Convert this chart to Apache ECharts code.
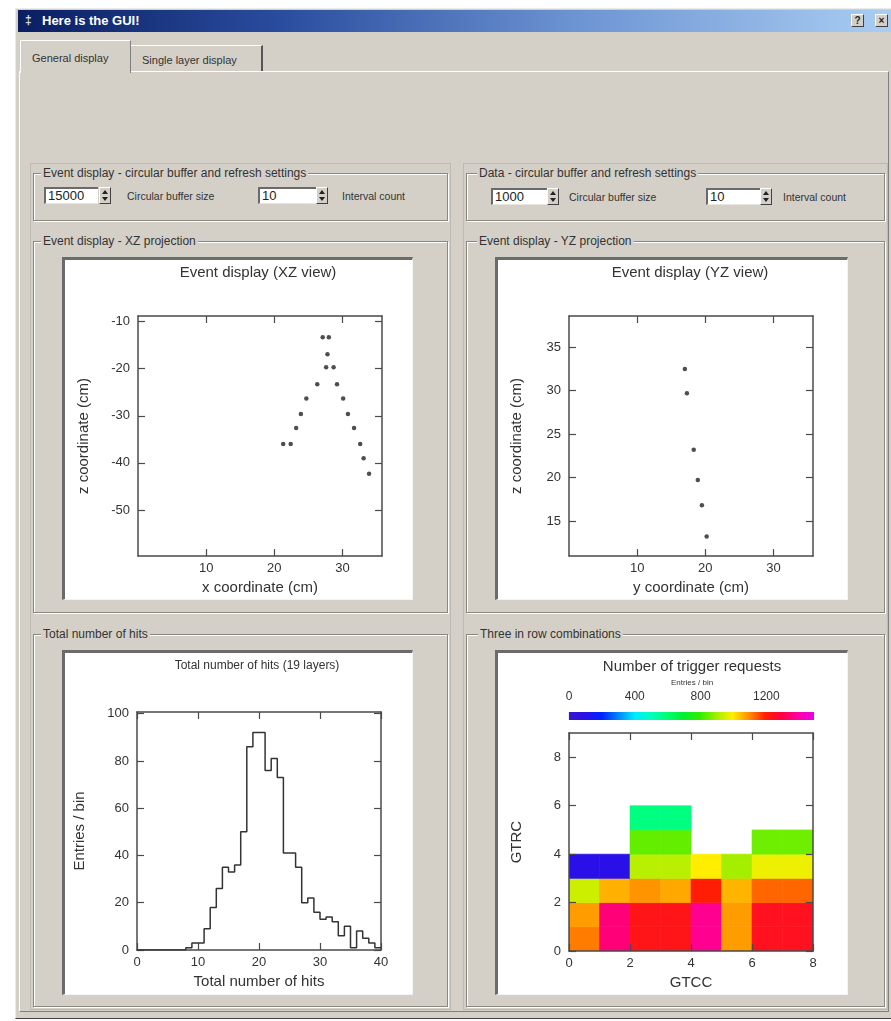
<!DOCTYPE html>
<html><head><meta charset="utf-8">
<script src="https://cdn.jsdelivr.net/npm/echarts@6/dist/echarts.min.js"></script>
<style>
html,body{margin:0;padding:0;background:#fff;width:891px;height:1021px;overflow:hidden;font-family:"Liberation Sans",Arial,sans-serif;color:#333;}
.a{position:absolute;}
#win{left:15px;top:8px;width:876px;height:1011px;background:#d4d0c8;box-sizing:border-box;border-left:1px solid #ecebe6;border-top:1px solid #ecebe6;border-bottom:1px solid #404040;}
#titlebar{left:18px;top:10px;width:873px;height:22px;background:linear-gradient(to right,#0a1e62 0%,#2a4c9e 30%,#6f96d4 65%,#a9cdf2 100%);}
#ticon{left:25px;top:14px;width:9px;height:13px;color:#ddd;font-size:12px;line-height:13px;font-weight:bold;}
#ttext{left:42px;top:13px;color:#fff;font-weight:bold;font-size:13px;line-height:16px;white-space:nowrap;}
.tbtn{top:14px;width:13px;height:13px;background:#d4d0c8;box-sizing:border-box;border:1px solid;border-color:#fff #404040 #404040 #fff;font-size:10px;line-height:11px;text-align:center;font-weight:bold;color:#222;}
.tab{box-sizing:border-box;background:#d4d0c8;font-size:11px;line-height:14px;white-space:nowrap;}
#tab1{left:20px;top:40px;width:111px;height:33px;border-top:1px solid #fff;border-left:1px solid #fff;border-right:1px solid #808080;}
#tab2{left:131px;top:45px;width:132px;height:26px;border-top:1px solid #fff;border-right:2px solid #555;}
#pane{left:19px;top:71px;width:870px;height:941px;box-sizing:border-box;border-top:1px solid #fff;border-left:1px solid #fff;border-right:1px solid #808080;border-bottom:1px solid #808080;}
.col{box-sizing:border-box;border:1px solid #bebab2;}
.grp{box-sizing:border-box;border:1px solid #8a8780;box-shadow:1px 1px 0 #fff, inset 1px 1px 0 #fff;}
.gt{position:absolute;top:-8px;left:7px;background:#d4d0c8;padding:0 2px;font-size:12px;line-height:14px;white-space:nowrap;color:#333;}
.spin{box-sizing:border-box;height:17px;background:#fff;border-top:2px solid #6a6a6a;border-left:2px solid #6a6a6a;border-bottom:1px solid #e8e6e0;font-size:13px;line-height:14px;padding-left:2px;color:#222;}
.arr{box-sizing:border-box;width:12px;height:17px;background:#d4d0c8;border:1px solid;border-color:#fff #404040 #404040 #fff;}
.arr:before{content:"";position:absolute;left:2px;top:2px;border-left:3px solid transparent;border-right:3px solid transparent;border-bottom:4px solid #222;}
.arr:after{content:"";position:absolute;left:2px;top:9px;border-left:3px solid transparent;border-right:3px solid transparent;border-top:4px solid #222;}
.lbl{font-size:10.5px;line-height:13px;white-space:nowrap;color:#333;}
.cv{background:#fff;}
.cvb{box-sizing:border-box;border-top:3px solid #6b6b6b;border-left:3px solid #6b6b6b;border-right:1px solid #f4f4f4;border-bottom:1px solid #f4f4f4;pointer-events:none;}
</style></head>
<body>
<div id="win" class="a"></div>
<div id="titlebar" class="a"></div>
<div id="ticon" class="a">&#8225;</div>
<div id="ttext" class="a">Here is the GUI!</div>
<div class="a tbtn" style="left:851px;">?</div>
<div class="a tbtn" style="left:875px;">&#215;</div>

<div id="pane" class="a"></div>
<div id="tab2" class="a tab"><span class="a" style="left:11px;top:7px;">Single layer display</span></div>
<div id="tab1" class="a tab"><span class="a" style="left:11px;top:10px;">General display</span></div>

<div class="a col" style="left:30px;top:163px;width:421px;height:847px;"></div>
<div class="a col" style="left:463px;top:163px;width:425px;height:847px;"></div>

<div class="a grp" style="left:33px;top:173px;width:415px;height:48px;"><span class="gt">Event display - circular buffer and refresh settings</span></div>
<div class="a grp" style="left:466px;top:173px;width:419px;height:48px;"><span class="gt" style="left:10px;">Data - circular buffer and refresh settings</span></div>
<div class="a grp" style="left:33px;top:241px;width:415px;height:372px;"><span class="gt">Event display - XZ projection</span></div>
<div class="a grp" style="left:466px;top:241px;width:419px;height:372px;"><span class="gt" style="left:10px;">Event display - YZ projection</span></div>
<div class="a grp" style="left:33px;top:634px;width:415px;height:373px;"><span class="gt">Total number of hits</span></div>
<div class="a grp" style="left:466px;top:634px;width:419px;height:373px;"><span class="gt" style="left:11px;">Three in row combinations</span></div>

<div class="a spin" style="left:44px;top:187px;width:54px;">15000</div>
<div class="a arr" style="left:99px;top:187px;"></div>
<div class="a lbl" style="left:127px;top:190px;">Circular buffer size</div>
<div class="a spin" style="left:258px;top:187px;width:59px;">10</div>
<div class="a arr" style="left:316px;top:187px;"></div>
<div class="a lbl" style="left:342px;top:190px;">Interval count</div>

<div class="a spin" style="left:491px;top:188px;width:56px;">1000</div>
<div class="a arr" style="left:547px;top:188px;"></div>
<div class="a lbl" style="left:569px;top:191px;">Circular buffer size</div>
<div class="a spin" style="left:706px;top:188px;width:54px;">10</div>
<div class="a arr" style="left:760px;top:188px;"></div>
<div class="a lbl" style="left:783px;top:191px;">Interval count</div>

<div id="c1" class="a cv" style="left:62px;top:257px;width:351px;height:343px;"></div>
<div class="a cvb" style="left:62px;top:257px;width:351px;height:343px;"></div>
<div id="c2" class="a cv" style="left:495px;top:257px;width:353px;height:343px;"></div>
<div class="a cvb" style="left:495px;top:257px;width:353px;height:343px;"></div>
<div id="c3" class="a cv" style="left:62px;top:650px;width:351px;height:345px;"></div>
<div class="a cvb" style="left:62px;top:650px;width:351px;height:345px;"></div>
<div id="c4" class="a cv" style="left:495px;top:650px;width:353px;height:345px;"></div>
<div class="a cvb" style="left:495px;top:650px;width:353px;height:345px;"></div>

<script>
// ---------------- data ----------------
const xzX = [27.1, 28.0, 27.8, 27.6, 28.7, 26.3, 29.2, 24.7, 30.1, 23.9, 30.8, 23.2, 31.7, 21.3, 22.4, 32.6, 33.1, 33.9];
const xzZ = [-13.3, -13.3, -16.9, -19.7, -19.7, -23.3, -23.3, -26.3, -26.3, -29.6, -29.6, -32.6, -32.6, -36.0, -36.0, -36.0, -39.0, -42.3];
const yzY = [17.0, 17.3, 18.3, 18.9, 19.5, 20.2];
const yzZ = [32.5, 29.7, 23.2, 19.7, 16.8, 13.2];

const histCounts = [0,0,0,0,0,0,0,0,1,3,3,9,18,26,35,33,36,50,86,92,92,76,81,73,41,41,35,20,22,16,13,14,12,6,10,1,8,5,3,1];
const histStart = 0;
const histBinWidth = 1;

const gtccBins = [0,1,2,3,4,5,6,7];
const gtrcBins = [0,1,2,3,4,5,6,7,8];
const trigRow0 = [1110, 1350, 1230, 1230, 1375, 1080, 1240, 1240];
const trigRow1 = [1080, 1350, 1230, 1230, 1375, 1080, 1240, 1240];
const trigRow2 = [940, 1060, 1090, 1067, 1200, 1055, 1130, 1130];
const trigRow3 = [100, 100, 920, 920, 995, 900, 975, 975];
const trigRow4 = [null, null, 840, 840, null, null, 850, 850];
const trigRow5 = [null, null, 575, 575, null, null, null, null];
const trigRows = [trigRow0, trigRow1, trigRow2, trigRow3, trigRow4, trigRow5];

const paletteColors = ['#3c16cc','#2a10e8','#0022ff','#0082ff','#00e8ff','#00ffc0','#00ff70','#00f030','#30ee00','#a0ee00','#fff000','#ff9000','#ff2000','#ff0040','#ff00a0','#e800e8'];
const paletteMax = 1490;

const xzXTicks = [10, 20, 30];
const xzZTicks = [-50, -40, -30, -20, -10];
const yzYTicks = [10, 20, 30];
const yzZTicks = [15, 20, 25, 30, 35];
const histXTicks = [0, 10, 20, 30, 40];
const histYTicks = [0, 20, 40, 60, 80, 100];
const gtccTicks = [0, 2, 4, 6, 8];
const gtrcTicks = [0, 2, 4, 6, 8];
const paletteTicks = [0, 400, 800, 1200];

// ---------------- helpers ----------------
const FONT = '"Liberation Sans", Arial, sans-serif';
const TXT = '#333';
const FRAME = '#4a4a4a';
const plain = v => String(v);

function xAx(gi, min, max, ticks, pos, showLabel, name, gap, z) {
  return {
    gridIndex: gi, type: 'value', min: min, max: max, position: pos, z: z || 0,
    axisLine: {show: true, onZero: false, lineStyle: {color: FRAME, width: 1.5}},
    axisTick: {show: true, inside: true, length: 7, customValues: ticks, lineStyle: {color: FRAME, width: 1.2}},
    axisLabel: {show: showLabel, customValues: ticks, formatter: plain, color: TXT, fontSize: 13, fontFamily: FONT, margin: 6},
    splitLine: {show: false},
    name: name || '', nameLocation: 'middle', nameGap: gap || 0,
    nameTextStyle: {color: TXT, fontSize: 15, fontFamily: FONT}
  };
}
function yAx(gi, min, max, ticks, pos, showLabel, name, gap, z) {
  return {
    gridIndex: gi, type: 'value', min: min, max: max, position: pos, z: z || 0,
    axisLine: {show: true, onZero: false, lineStyle: {color: FRAME, width: 1.5}},
    axisTick: {show: true, inside: true, length: 7, customValues: ticks, lineStyle: {color: FRAME, width: 1.2}},
    axisLabel: {show: showLabel, customValues: ticks, formatter: plain, color: TXT, fontSize: 13, fontFamily: FONT, margin: 8},
    splitLine: {show: false},
    name: name || '', nameLocation: 'middle', nameGap: gap || 0, nameRotate: 90,
    nameTextStyle: {color: TXT, fontSize: 15, fontFamily: FONT}
  };
}
function titleText(x, y, text, size) {
  return {type: 'text', x: x, y: y, silent: true,
    style: {text: text, fill: TXT, fontSize: size, fontFamily: FONT, align: 'center', verticalAlign: 'middle'}};
}
function zip(a, b) { return a.map((v, i) => [v, b[i]]); }

// ---------------- XZ view ----------------
const c1 = echarts.init(document.getElementById('c1'), null, {renderer: 'canvas'});
c1.setOption({
  animation: false, backgroundColor: '#fff',
  graphic: [titleText(196, 16, 'Event display (XZ view)', 15)],
  grid: {left: 76, top: 59, width: 244, height: 242},
  xAxis: [xAx(0, 0, 35.8, xzXTicks, 'bottom', true, 'x coordinate (cm)', 22), xAx(0, 0, 35.8, xzXTicks, 'top', false)],
  yAxis: [yAx(0, -59.8, -8.8, xzZTicks, 'left', true, 'z coordinate (cm)', 47), yAx(0, -59.8, -8.8, xzZTicks, 'right', false)],
  series: [{type: 'scatter', data: zip(xzX, xzZ), symbol: 'circle', symbolSize: 4.5, itemStyle: {color: '#222'}}]
});

// ---------------- YZ view ----------------
const c2 = echarts.init(document.getElementById('c2'), null, {renderer: 'canvas'});
c2.setOption({
  animation: false, backgroundColor: '#fff',
  graphic: [titleText(195, 16, 'Event display (YZ view)', 15)],
  grid: {left: 74, top: 59, width: 244, height: 242},
  xAxis: [xAx(0, 0, 35.8, yzYTicks, 'bottom', true, 'y coordinate (cm)', 22), xAx(0, 0, 35.8, yzYTicks, 'top', false)],
  yAxis: [yAx(0, 10.95, 38.6, yzZTicks, 'left', true, 'z coordinate (cm)', 45), yAx(0, 10.95, 38.6, yzZTicks, 'right', false)],
  series: [{type: 'scatter', data: zip(yzY, yzZ), symbol: 'circle', symbolSize: 4.5, itemStyle: {color: '#222'}}]
});

// ---------------- histogram ----------------
const histData = histCounts.map((v, i) => [histStart + i * histBinWidth, v]);
histData.push([histStart + histCounts.length * histBinWidth, histCounts[histCounts.length - 1]]);
const c3 = echarts.init(document.getElementById('c3'), null, {renderer: 'canvas'});
c3.setOption({
  animation: false, backgroundColor: '#fff',
  graphic: [titleText(195, 16, 'Total number of hits (19 layers)', 12)],
  grid: {left: 75, top: 62, width: 244, height: 238},
  xAxis: [xAx(0, 0, 40, histXTicks, 'bottom', true, 'Total number of hits', 24), xAx(0, 0, 40, histXTicks, 'top', false)],
  yAxis: [yAx(0, 0, 100.7, histYTicks, 'left', true, 'Entries / bin', 50), yAx(0, 0, 100.7, histYTicks, 'right', false)],
  series: [{type: 'line', step: 'end', data: histData, symbol: 'none', lineStyle: {color: '#333', width: 1.5}}]
});

// ---------------- trigger requests (2D) ----------------
const heatData = [];
trigRows.forEach((row, r) => row.forEach((v, c) => { if (v !== null) heatData.push([gtccBins[c], gtrcBins[r], v]); }));
const cellW = gtccBins[1] - gtccBins[0];
const cellH = gtrcBins[1] - gtrcBins[0];
const gradStops = paletteColors.map((c, i) => ({offset: i / (paletteColors.length - 1), color: c}));

const c4 = echarts.init(document.getElementById('c4'), null, {renderer: 'canvas'});
const cbX = {
  gridIndex: 1, type: 'value', min: 0, max: paletteMax, position: 'top',
  axisLine: {show: false},
  axisTick: {show: true, inside: false, length: 8, customValues: paletteTicks, lineStyle: {color: FRAME, width: 1.2}},
  axisLabel: {show: true, customValues: paletteTicks, formatter: plain, color: TXT, fontSize: 12, fontFamily: FONT, margin: 9},
  splitLine: {show: false}
};
const cbY = {gridIndex: 1, type: 'value', min: 0, max: 1, show: false};
c4.setOption({
  animation: false, backgroundColor: '#fff',
  graphic: [titleText(197, 17, 'Number of trigger requests', 15), titleText(197, 33, 'Entries / bin', 8)],
  grid: [{left: 74, top: 83, width: 244, height: 219}, {left: 74, top: 62, width: 245, height: 8}],
  visualMap: {type: 'continuous', show: false, min: 0, max: paletteMax, dimension: 2, seriesIndex: 0,
    inRange: {color: paletteColors}},
  xAxis: [xAx(0, 0, 8, gtccTicks, 'bottom', true, 'GTCC', 22, 5), xAx(0, 0, 8, gtccTicks, 'top', false, '', 0, 5), cbX],
  yAxis: [yAx(0, 0, 9, gtrcTicks, 'left', true, 'GTRC', 45, 5), yAx(0, 0, 9, gtrcTicks, 'right', false, '', 0, 5), cbY],
  series: [
    {type: 'custom', xAxisIndex: 0, yAxisIndex: 0, data: heatData, encode: {x: 0, y: 1}, clip: true,
      renderItem: function (params, api) {
        const x0 = api.value(0), y0 = api.value(1);
        const a = api.coord([x0, y0 + cellH]);
        const b = api.coord([x0 + cellW, y0]);
        const col = api.visual('color');
        return {type: 'rect', shape: {x: a[0], y: a[1], width: b[0] - a[0], height: b[1] - a[1]},
          style: {fill: col, stroke: col, lineWidth: 0.6}};
      }},
    {type: 'custom', xAxisIndex: 2, yAxisIndex: 2, data: [[0, paletteMax]], encode: {x: [0, 1]},
      renderItem: function (params, api) {
        const a = api.coord([api.value(0), 1]);
        const b = api.coord([api.value(1), 0]);
        return {type: 'rect', shape: {x: a[0], y: a[1], width: b[0] - a[0], height: b[1] - a[1]},
          style: {fill: new echarts.graphic.LinearGradient(0, 0, 1, 0, gradStops)}};
      }}
  ]
});
</script>
</body></html>
